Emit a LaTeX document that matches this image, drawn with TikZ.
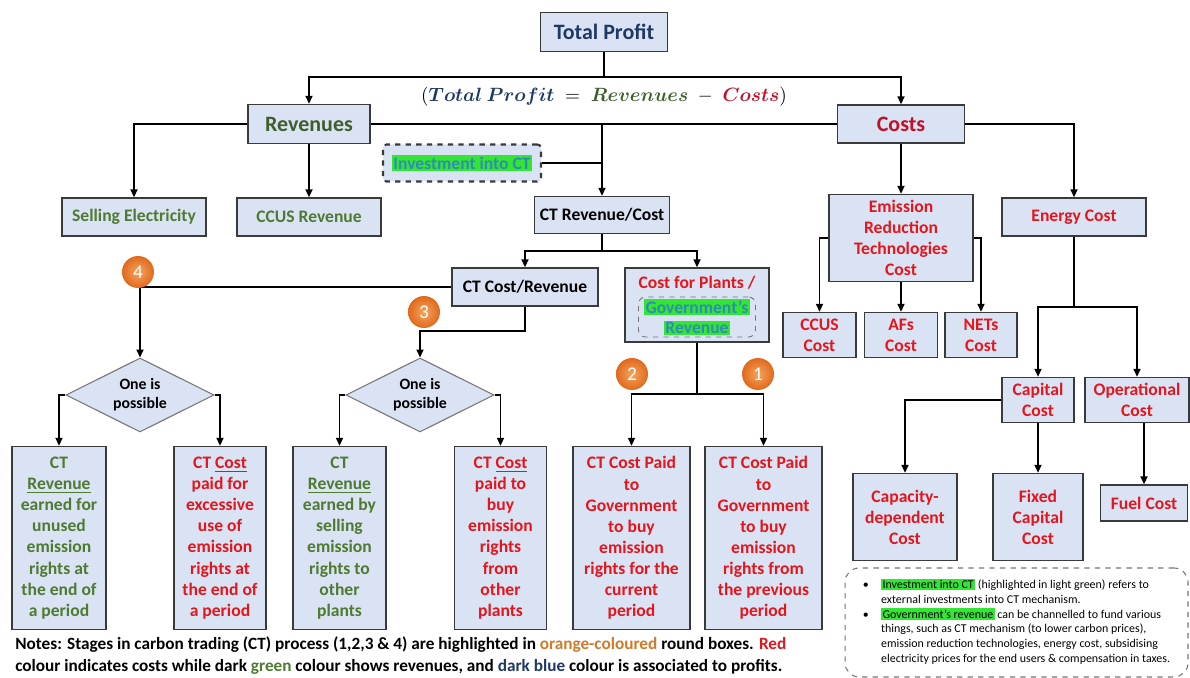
\documentclass[tikz,border=0pt]{standalone}
\usepackage{fontspec}
\setmainfont{Carlito}
\usepackage{bm}
\usetikzlibrary{arrows.meta,shapes.geometric}

\definecolor{boxfill}{HTML}{DAE3F3}
\definecolor{boxline}{HTML}{3A3A3A}
\definecolor{dblue}{HTML}{1F3864}
\definecolor{dgreen}{HTML}{4E7A32}
\definecolor{hgreen}{HTML}{3E5F2C}
\definecolor{bred}{HTML}{E3161E}
\definecolor{hred}{HTML}{C0102A}
\definecolor{hlgreen}{HTML}{33E633}
\definecolor{tealtxt}{HTML}{2F8CB4}
\definecolor{badgein}{HTML}{F5A55E}
\definecolor{badgeor}{HTML}{E0691C}
\definecolor{noteor}{HTML}{D07A2A}

\newcommand{\hlg}[1]{{\setlength{\fboxsep}{0.8pt}\colorbox{hlgreen}{#1}}}

\tikzset{
  box/.style={draw=boxline, fill=boxfill, line width=0.85pt, align=center, inner sep=1pt,
    font=\fontsize{10}{12}\selectfont\bfseries},
  head/.style={box, font=\fontsize{12.5}{15}\selectfont\bfseries},
  rtxt/.style={text=bred},
  gtxt/.style={text=dgreen},
  badge/.style={circle, shading=radial, inner color=badgein, outer color=badgeor, text=white,
    minimum size=0.64cm, inner sep=0pt, font=\fontsize{11}{11}\selectfont},
  choice/.style={diamond, aspect=2, draw=boxline!70, fill=boxfill, line width=0.6pt, inner sep=0pt,
    minimum width=2.96cm, minimum height=1.48cm, align=center, font=\fontsize{9}{11}\selectfont\bfseries},
  ln/.style={line width=0.9pt},
  arr/.style={ln, -{Triangle[length=4.5pt,width=4pt]}}
}

\begin{document}
\begin{tikzpicture}[x=0.02cm, y=-0.02cm]
\useasboundingbox (0,0) rectangle (1190,678);

% top level
\node[head, text=dblue, minimum width=2.54cm, minimum height=0.78cm] (tp) at (604,32) {Total Profit};
\node[font=\fontsize{11}{13}\selectfont] (eq) at (604,97)
  {$(\textcolor{dblue}{\bm{Total\ Profit}}\;=\;\textcolor{hgreen}{\bm{Revenues}}\;-\;\textcolor{hred}{\bm{Costs}})$};
\node[head, text=hgreen, minimum width=2.44cm, minimum height=0.78cm] (rev) at (309,124) {Revenues};
\node[head, text=hred, minimum width=2.54cm, minimum height=0.76cm] (cost) at (901,124) {Costs};
\coordinate (tpj) at (604,77);
\draw[ln] (tp) -- (tpj);
\draw[arr] (tpj) -| (rev);
\draw[arr] (tpj) -| (cost);

% revenues
\node[box, gtxt, minimum width=2.88cm, minimum height=0.76cm] (sell) at (134,217) {Selling Electricity};
\node[box, gtxt, minimum width=2.88cm, minimum height=0.76cm] (ccusr) at (309,217) {CCUS Revenue};
\node[box, dashed, line width=1.2pt, rounded corners=2pt, text=tealtxt, minimum width=3.16cm, minimum height=0.74cm] (inv) at (462,163) {\hlg{Investment into CT}};
\node[box, minimum width=2.7cm, minimum height=0.74cm] (ctrc) at (602,215) {CT Revenue/Cost};
\draw[arr] (rev) -| (sell);
\draw[arr] (rev) -- (ccusr);
\draw[ln] (rev) -- (cost);
\draw[arr] (ctrc |- rev) -- (ctrc);
\draw[ln] (inv) -- (inv -| ctrc);

% carbon trading
\node[box, minimum width=2.92cm, minimum height=0.76cm] (ctcr) at (525,287) {CT Cost/Revenue};
\node[box, minimum width=2.88cm, minimum height=1.48cm] (cfp) at (697,305) {};
\node[rtxt, font=\fontsize{10}{12}\selectfont\bfseries] (cfpt) at (697,283) {Cost for Plants /};
\node[draw=boxline!70, dashed, rounded corners=4pt, line width=0.5pt, text=tealtxt, align=center, inner sep=0pt,
  minimum width=2.34cm, minimum height=0.8cm, font=\fontsize{10}{11.5}\selectfont\bfseries] (gov) at (697,317)
  {\hlg{Government’s}\\\hlg{Revenue}};
\coordinate (ctj) at (602,251);
\draw[ln] (ctrc) -- (ctj);
\draw[arr] (ctj) -| (ctcr);
\draw[arr] (ctj) -| (cfp);

\node[choice] (dia1) at (140,395) {One is\\possible};
\node[choice] (dia2) at (420,395) {One is\\possible};
\coordinate (j3) at (420,331);
\draw[arr] (ctcr) -| (dia1);
\draw[arr] (ctcr) |- (j3) -- (dia2);

\node[box, gtxt, minimum width=1.88cm, minimum height=3.66cm] (b1) at (59,538)
  {CT\\\underline{Revenue}\\earned for\\unused\\emission\\rights at\\the end of\\a period};
\node[box, rtxt, minimum width=1.84cm, minimum height=3.66cm] (b2) at (220,538)
  {CT \underline{Cost}\\paid for\\excessive\\use of\\emission\\rights at\\the end of\\a period};
\node[box, gtxt, minimum width=1.86cm, minimum height=3.66cm] (b3) at (339.5,538)
  {CT\\\underline{Revenue}\\earned by\\selling\\emission\\rights to\\other\\plants};
\node[box, rtxt, minimum width=1.84cm, minimum height=3.66cm] (b4) at (500.5,538)
  {CT \underline{Cost}\\paid to\\buy\\emission\\rights\\from\\other\\plants};
\node[box, rtxt, minimum width=2.34cm, minimum height=3.66cm] (b5) at (631.5,538)
  {CT Cost Paid\\to\\Government\\to buy\\emission\\rights for the\\current\\period};
\node[box, rtxt, minimum width=2.34cm, minimum height=3.66cm] (b6) at (763.5,538)
  {CT Cost Paid\\to\\Government\\to buy\\emission\\rights from\\the previous\\period};
\draw[arr] (dia1.west) -| (b1);
\draw[arr] (dia1.east) -| (b2);
\draw[arr] (dia2.west) -| (b3);
\draw[arr] (dia2.east) -| (b4);
\coordinate (j12) at (697,394);
\draw[ln] (cfp) -- (j12);
\draw[arr] (j12) -| (b5);
\draw[arr] (j12) -| (b6);

\node[badge] (n4) at (138,272) {4};
\node[badge] (n3) at (424,312) {3};
\node[badge] (n2) at (632,374) {2};
\node[badge] (n1) at (758,374) {1};

% costs
\node[box, rtxt, minimum width=2.88cm, minimum height=1.74cm] (ert) at (901,238) {Emission\\Reduction\\Technologies\\Cost};
\node[box, rtxt, minimum width=2.88cm, minimum height=0.76cm] (enc) at (1074,217) {Energy Cost};
\draw[arr] (cost) -- (ert);
\draw[arr] (cost) -| (enc);
\node[box, rtxt, minimum width=1.46cm, minimum height=0.9cm] (ccusc) at (819.5,335) {CCUS\\Cost};
\node[box, rtxt, minimum width=1.46cm, minimum height=0.9cm] (afc) at (901,335) {AFs\\Cost};
\node[box, rtxt, minimum width=1.44cm, minimum height=0.9cm] (netc) at (981,335) {NETs\\Cost};
\draw[arr] (ert.west) -| (ccusc);
\draw[arr] (ert) -- (afc);
\draw[arr] (ert.east) -| (netc);

\node[box, rtxt, minimum width=1.44cm, minimum height=0.9cm] (capc) at (1038,400) {Capital\\Cost};
\node[box, rtxt, minimum width=2.08cm, minimum height=0.9cm] (opc) at (1137,400) {Operational\\Cost};
\coordinate (ej) at (1074,307);
\draw[ln] (enc) -- (ej);
\draw[arr] (ej) -| (capc);
\draw[arr] (ej) -| (opc);
\node[box, rtxt, minimum width=2.08cm, minimum height=1.74cm] (capd) at (905,517) {Capacity-\\dependent\\Cost};
\node[box, rtxt, minimum width=1.8cm, minimum height=1.74cm] (fixc) at (1038,517) {Fixed\\Capital\\Cost};
\node[box, rtxt, minimum width=1.74cm, minimum height=0.72cm] (fuel) at (1144,503) {Fuel Cost};
\draw[arr] (capc.west) -| (capd);
\draw[arr] (capc) -- (fixc);
\draw[arr] (fuel |- opc.south) -- (fuel);

% notes
\node[draw=boxline!70, dashed, rounded corners=8pt, line width=0.6pt, minimum width=6.86cm, minimum height=2.18cm,
  inner sep=0pt, font=\fontsize{6.8}{8.5}\selectfont] (nbox) at (1016.5,622.5)
  {\begin{tabular}{@{}l@{\hspace{7pt}}l@{}}
  \textbullet & \hlg{Investment into CT} (highlighted in light green) refers to\\
   & external investments into CT mechanism.\\
  \textbullet & \hlg{Government’s revenue} can be channelled to fund various\\
   & things, such as CT mechanism (to lower carbon prices),\\
   & emission reduction technologies, energy cost, subsidising\\
   & electricity prices for the end users \& compensation in taxes.
  \end{tabular}};
\node[anchor=west, align=left, inner sep=0pt, font=\fontsize{9.8}{12.5}\selectfont\bfseries] (notes) at (15,656)
  {Notes: Stages in carbon trading (CT) process (1,2,3 \& 4) are highlighted in \textcolor{noteor}{orange-coloured} round boxes. \textcolor{bred}{Red}\\
   colour indicates costs while dark \textcolor{dgreen}{green} colour shows revenues, and \textcolor{dblue}{dark blue} colour is associated to profits.};
\end{tikzpicture}
\end{document}
